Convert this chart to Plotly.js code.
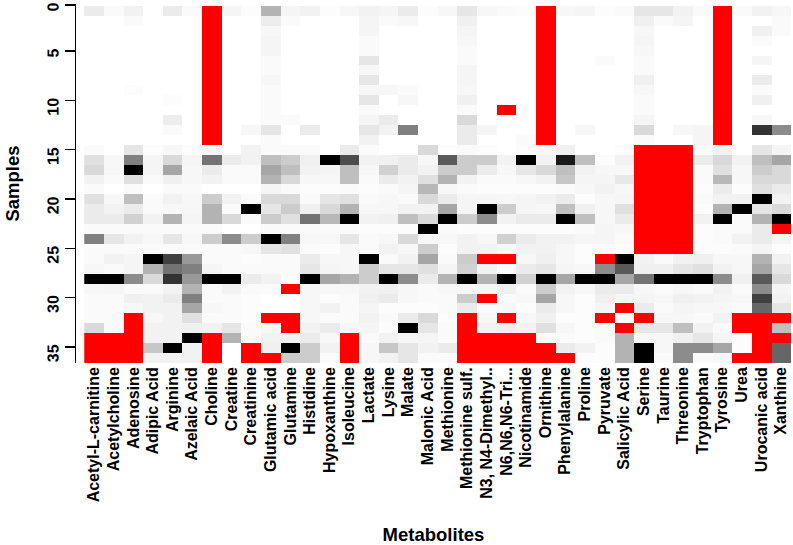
<!DOCTYPE html>
<html>
<head>
<meta charset="utf-8">
<script src="https://cdn.plot.ly/plotly-3.0.1.min.js"></script>
<style>html,body{margin:0;padding:0;background:#fff;}#chart{width:793px;height:545px;}</style>
</head>
<body>
<div id="chart"></div>
<script>
// Metabolite names (x categories)
const metabolites = ["Acetyl-L-carnitine","Acetylcholine","Adenosine","Adipic Acid","Arginine","Azelaic Acid","Choline","Creatine","Creatinine","Glutamic acid","Glutamine","Histidine","Hypoxanthine","Isoleucine","Lactate","Lysine","Malate","Malonic Acid","Methionine","Methionine sulf.","N3, N4-Dimethyl..","N6,N6,N6-Tri...","Nicotinamide","Ornithine","Phenylalanine","Proline","Pyruvate","Salicylic Acid","Serine","Taurine","Threonine","Tryptophan","Tyrosine","Urea","Urocanic acid","Xanthine"];

// Sample tick labels
const sampleTicks = [0,5,10,15,20,25,30,35];

// Scaled values per metabolite, samples 0..35 (null = missing, drawn red)
const acetylLCarnitine = [0.08,0,0,0,0,0,0,0,0,0,0,0,0,0, 0.02,0.12,0.15,0.05,0.02,0.12,0.08,0.08,0.02,0.5,0.02, 0.02,0.03,1,0.03,0.02,0.02,0.02,0.15,null,null,null];
const acetylcholine = [0.02,0,0,0,0,0,0,0,0,0,0,0,0,0, 0,0.03,0.03,0.02,0,0.03,0.05,0.08,0.02,0.1,0.02, 0.05,0.02,1,0.04,0.02,0.02,0.02,0.02,null,null,null];
const adenosine = [0.05,0.02,0,0,0,0,0,0,0.01,0,0,0,0,0, 0.1,0.5,1,0.12,0.02,0.25,0.08,0.18,0.02,0.05,0.02, 0.04,0.04,0.45,0.02,0.06,0.03,null,null,null,null,null];
const adipicAcid = [0,0,0,0,0,0,0,0,0,0,0,0,0,0, 0.01,0.04,0.04,0.02,0,0.02,0.02,0.05,0.02,0.03,0.02, 1,0.3,0.15,0.02,0.05,0.05,0.03,0.05,0.05,0.22,0.05];
const arginine = [0.08,0,0,0,0,0,0,0,0,0.01,0,0.07,0.02,0, 0.03,0.15,0.35,0.06,0.02,0.05,0.03,0.3,0.02,0.1,0.02, 0.75,0.55,0.8,0.05,0.08,0.05,0.05,0.05,0.05,1,0.05];
const azelaicAcid = [0.02,0,0,0,0,0,0,0,0,0,0,0,0,0, 0.01,0.04,0.03,0.03,0.02,0.03,0.03,0.04,0.02,0.03,0.02, 0.4,0.5,0.4,0.3,0.5,0.35,0.12,0.06,1,0.05,0.05];
const choline = [null,null,null,null,null,null,null,null,null,null,null,null,null,null, 0.03,0.55,0.08,0.05,0,0.2,0.3,0.3,0.02,0.2,0.02, 0.02,0.04,1,0.02,0.02,0.03,0.02,0.05,null,null,null];
const creatine = [0.04,0,0,0,0,0,0,0,0,0,0,0,0,0, 0,0.08,0.02,0.02,0,0.05,0.02,0.15,0,0.45,0.02, 0.02,0.02,1,0.05,0.02,0.02,0.02,0.1,0.3,0,0];
const creatinine = [0.01,0,0,0,0,0,0,0,0,0,0,0,0.03,0, 0.05,0.05,0.02,0.02,0,0.02,1,0.02,0,0.2,0.03, 0.01,0.02,0.08,0.02,0.01,0.01,0.01,0.02,0.02,null,null];
const glutamicAcid = [0.3,0.07,0.03,0.04,0.04,0.02,0.02,0.03,0.02,0.02,0.02,0.02,0.1,0.02, 0.02,0.25,0.35,0.3,0.04,0.15,0.1,0.2,0.02,1,0.1, 0.02,0.02,0.05,0.02,0,0,null,0.03,0.05,0.06,null];
const glutamine = [0.04,0.02,0,0,0,0,0,0,0,0,0,0.02,0,0, 0.02,0.2,0.25,0.15,0.02,0.15,0.2,0.12,0.02,0.5,0.12, 0.02,0.02,0.01,null,0,0,null,null,0.05,1,0.2];
const histidine = [0.05,0,0,0,0,0,0,0,0,0,0,0,0.08,0, 0.02,0.06,0.05,0.03,0.01,0.02,0.06,0.55,0.02,0.03,0.02, 0.08,0.1,1,0.03,0.03,0.03,0.03,0.05,0.08,0.2,0.2];
const hypoxanthine = [0.01,0,0,0,0,0,0,0,0,0,0,0,0,0, 0,1,0.04,0.03,0.01,0.1,0.15,0.28,0.02,0.03,0.01, 0.03,0.04,0.35,0.03,0.01,0.05,0.02,0.08,0.03,0.05,0.02];
const isoleucine = [0.03,0,0,0,0,0,0,0,0,0,0,0,0,0, 0.08,0.7,0.25,0.25,0.02,0.12,0.3,1,0.02,0.1,0.03, 0.03,0.03,0.3,0.03,0.02,0.02,0.02,0.03,null,null,null];
const lactate = [0.05,0.04,0.04,0.02,0.02,0.1,0.03,0.1,0.03,0.1,0.02,0.04,0.1,0.05, 0.02,0.05,0.03,0.02,0.01,0.02,0.03,0.05,0.01,0.02,0.02, 1,0.2,0.2,0.05,0.06,0.04,0.05,0.04,0.02,0.03,0.03];
const lysine = [0.04,0.02,0,0,0,0,0,0,0.03,0,0,0.08,0.05,0, 0,0.06,0.18,0.08,0.02,0.03,0.03,0.06,0.01,0.03,0.05, 0.02,0.1,1,0.06,0.08,0.01,0.02,0.01,0.05,0.22,0.05];
const malate = [0.08,0.03,0,0,0,0,0,0,0.02,0.03,0,0,0.5,0, 0,0.08,0.08,0.05,0.04,0.02,0.05,0.25,0.01,0.15,0.03, 0.05,0.1,0.45,0.03,0.03,0.01,0.08,1,0.03,0.1,0.1];
const malonicAcid = [0.01,0,0,0,0,0,0,0,0,0,0,0,0,0, 0.15,0.03,0.05,0.12,0.28,0.15,0.05,0.15,1,0.03,0.2, 0.35,0.12,0.08,0.02,0.02,0.01,0.15,0.1,0.04,0.05,0.02];
const methionine = [0.03,0,0,0,0,0,0,0,0,0,0,0,0,0, 0.01,0.65,0.2,0.3,0.03,0.08,0.35,1,0.02,0.03,0.01, 0.02,0.04,0.3,0.03,0.02,0.02,0.01,0.02,0.02,0.08,0.02];
const methionineSulf = [0.1,0.06,0.04,0.03,0.02,0.02,0.04,0.04,0.03,0.06,0.02,0.15,0.08,0.08, 0.02,0.2,0.2,0.05,0.02,0.04,0.04,0.2,0.01,0.05,0.05, 0.2,0.18,1,0.03,0.2,0.08,null,null,null,null,null];
const n3n4Dimethyl = [0.03,0,0,0,0,0,0,0,0,0,0,0,0.04,0, 0.01,0.2,0.08,0.02,0.01,0.04,1,0.45,0.01,0.03,0.05, null,0.05,0.3,0.04,null,0.02,0.03,0.05,null,null,null];
const n6Trimethyl = [0.02,0,0,0,0,0,0,0,0,0,null,0,0,0, 0,0.05,0.03,0.02,0.01,0.03,0.2,0.05,0.01,0.18,0.03, null,0.02,1,0.06,0.02,0.03,null,0.06,null,null,null];
const nicotinamide = [0.01,0,0,0,0,0,0,0,0,0,0,0,0,0.02, 0.01,1,0.1,0.03,0.01,0.04,0.04,0.08,0.01,0.08,0.05, 0.03,0.08,0.18,0.02,0.03,0.01,0.03,0.05,null,null,null];
const ornithine = [null,null,null,null,null,null,null,null,null,null,null,null,null,null, 0.03,0.05,0.15,0.05,0.01,0.05,0.03,0.08,0.01,0.05,0.05, 0.06,0.1,1,0.2,0.35,0.08,0.06,0.12,0.02,null,null];
const phenylalanine = [0.03,0,0,0,0,0,0,0,0,0,0,0,0,0, 0.06,0.9,0.25,0.22,0.02,0.08,0.25,1,0.01,0.05,0.03, 0.03,0.04,0.35,0.05,0.03,0.03,0.01,0.03,0.02,0.08,null];
const proline = [0.04,0,0,0,0,0,0,0,0,0,0,0,0.03,0, 0,0.25,0.05,0.04,0.03,0.01,0.06,0.25,0.02,0.04,0.01, 0.01,0.03,1,0.03,0.01,0.01,0.01,0.01,0.01,0.05,0.01];
const pyruvate = [0.01,0,0,0,0,0.02,0,0,0,0,0,0,0,0, 0,0.01,0.03,0.04,0.05,0.03,0.03,0.03,0.04,0.04,0.01, null,0.45,1,0.08,0.06,0.04,null,0.02,0.02,0.01,0.01];
const salicylicAcid = [0.02,0,0,0,0,0,0,0,0,0,0,0,0,0, 0.01,0.05,0.03,0.09,0.03,0.04,0.12,0.08,0.03,0.02,0.01, 1,0.65,0.35,0.08,0.04,null,0.01,null,0.3,0.3,0.3];
const serine = [0.1,0.06,0.03,0.04,0.03,0.02,0.02,0.06,0.03,0.02,0.02,0.04,0.15,0.02, null,null,null,null,null,null,null,null,null,null,null, 0.05,0.06,0.55,0.03,0.04,0.08,null,0.1,0.03,1,1];
const taurine = [0.1,0.02,0,0,0,0,0,0,0,0,0,0,0,0, null,null,null,null,null,null,null,null,null,null,null, 0.02,0.06,1,0.02,0.03,0.02,0.03,0.1,0.03,0.03,0.02];
const threonine = [0.05,0.04,0,0,0,0,0,0,0,0,0,0,0.03,0, null,null,null,null,null,null,null,null,null,null,null, 0.05,0.1,1,0.03,0.06,0.04,0.03,0.25,0.06,0.45,0.45];
const tryptophan = [0.02,0,0,0,0,0,0,0,0,0,0,0,0.04,0.04, 0.02,0.08,0.02,0.02,0.01,0.02,0.01,0.05,0.01,0.01,0.01, 0.06,0.12,1,0.02,0.05,0.03,0.02,0.05,0.1,0.45,0.02];
const tyrosine = [null,null,null,null,null,null,null,null,null,null,null,null,null,null, 0.05,0.15,0.12,0.28,0.08,0.05,0.3,1,0.02,0.02,0.01, 0.03,0.05,0.45,0.05,0.04,0.03,0.05,0.02,0.04,0.35,0.03];
const urea = [0.02,0,0,0,0,0,0,0,0,0,0,0,0,0, 0,0.05,0.03,0.03,0.01,0.05,1,0.02,0.02,0.05,0.02, 0.03,0.03,0.06,0.02,0.03,0.02,null,null,0.01,0.01,null];
const urocanicAcid = [0.05,0,0.06,0.02,0,0.04,0,0.08,0.02,0.06,0,0.03,0.8,0, 0.1,0.25,0.2,0.15,0.12,1,0.1,0.3,0.08,0.08,0.04, 0.3,0.35,0.65,0.45,0.75,0.6,null,null,null,null,null];
const xanthine = [0.03,0.02,0.02,0,0,0,0,0,0,0,0,0,0.45,0, 0.04,0.35,0.15,0.15,0.08,0.05,0.15,1,null,0.04,0.01, 0.05,0.1,0.15,0.04,0.05,0.1,null,0.25,null,0.6,0.6];

const columns = [acetylLCarnitine, acetylcholine, adenosine, adipicAcid, arginine, azelaicAcid, choline, creatine, creatinine, glutamicAcid, glutamine, histidine, hypoxanthine, isoleucine, lactate, lysine, malate, malonicAcid, methionine, methionineSulf, n3n4Dimethyl, n6Trimethyl, nicotinamide, ornithine, phenylalanine, proline, pyruvate, salicylicAcid, serine, taurine, threonine, tryptophan, tyrosine, urea, urocanicAcid, xanthine];

const nSamples = acetylLCarnitine.length;
const samples = Array.from({length: nSamples}, (_, i) => i);

const zGray = samples.map(r => columns.map(c => (c[r] === null ? null : c[r])));
const zRed = samples.map(r => columns.map(c => (c[r] === null ? 1 : null)));

const boldFont = {family: '"Liberation Sans", Arial, Helvetica, sans-serif', color: '#000', weight: 'bold'};

const traces = [
  {
    type: 'heatmap', x: metabolites, y: samples, z: zGray,
    colorscale: [[0, '#ffffff'], [1, '#000000']], zmin: 0, zmax: 1,
    showscale: false, hoverongaps: false
  },
  {
    type: 'heatmap', x: metabolites, y: samples, z: zRed,
    colorscale: [[0, '#ff0000'], [1, '#ff0000']], zmin: 0, zmax: 1,
    showscale: false, hoverongaps: false
  }
];

const layout = {
  width: 793, height: 545,
  margin: {l: 76, r: 2, t: 4, b: 182},
  paper_bgcolor: '#ffffff', plot_bgcolor: '#ffffff',
  showlegend: false,
  xaxis: {
    type: 'category', range: [-0.92, 35.5],
    showgrid: false, zeroline: false, showline: false, ticks: '',
    tickangle: -90, tickfont: Object.assign({size: 16}, boldFont),
    automargin: false,
    title: {text: 'Metabolites', font: Object.assign({size: 18.5}, boldFont), standoff: 30}
  },
  yaxis: {
    range: [35.5, -0.7],
    showgrid: false, zeroline: false,
    showline: true, linecolor: '#000', linewidth: 1.4,
    ticks: 'outside', ticklen: 10, tickwidth: 1.4, tickcolor: '#000',
    tickvals: sampleTicks.map(t => (t === 0 ? -0.6 : -0.93 + 0.9942 * t)),
    ticktext: sampleTicks.map(String),
    tickangle: -89.9, tickfont: Object.assign({size: 16}, boldFont),
    ticklabelstandoff: 11,
    automargin: false,
    title: {text: 'Samples', font: Object.assign({size: 18.5}, boldFont), standoff: 20}
  }
};

Plotly.newPlot('chart', traces, layout, {displayModeBar: false, staticPlot: true});
</script>
</body>
</html>
